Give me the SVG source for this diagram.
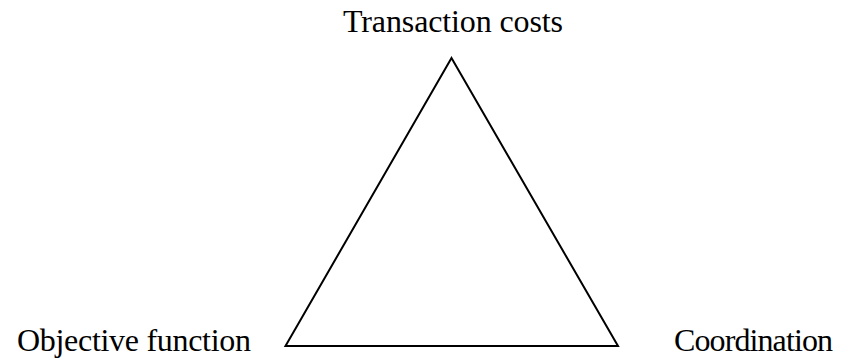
<svg xmlns="http://www.w3.org/2000/svg" width="842" height="360" viewBox="0 0 842 360">
<style>
.lbl{font-family:"Liberation Serif","Times New Roman",serif;font-size:32px;fill:#000}
.edge{fill:none;stroke:#000;stroke-width:2;stroke-linejoin:miter}
</style>
<rect width="842" height="360" fill="#fff"/>
<g id="connectors">
<path class="edge" d="M451.5,58 L618,346 L285.5,346 Z"/>
</g>
<g id="node-transaction-costs">
<text class="lbl" x="343" y="32" textLength="220" lengthAdjust="spacing">Transaction costs</text>
</g>
<g id="node-objective-function">
<text class="lbl" x="17" y="351" textLength="234" lengthAdjust="spacing">Objective function</text>
</g>
<g id="node-coordination">
<text class="lbl" x="674" y="351" textLength="159" lengthAdjust="spacing">Coordination</text>
</g>
</svg>
